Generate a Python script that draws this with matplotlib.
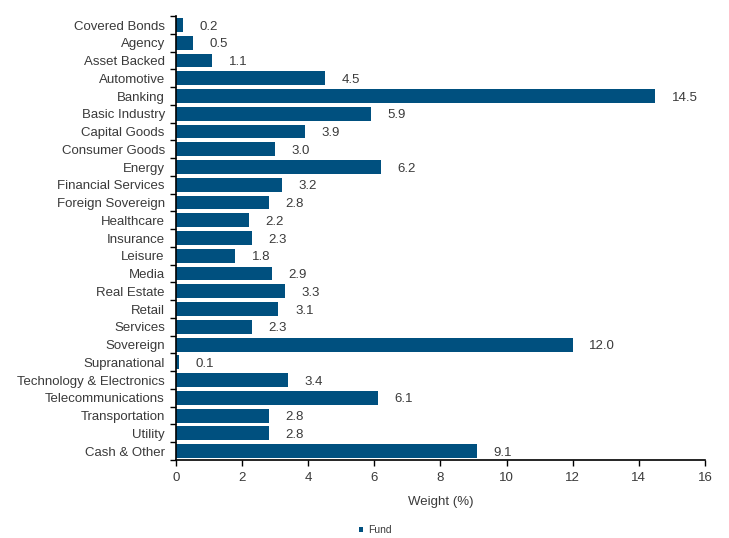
import matplotlib.pyplot as plt
import numpy as np

plt.rcParams["font.family"] = ["Liberation Sans", "DejaVu Sans"]

sectors = [
    "Covered Bonds", "Agency", "Asset Backed", "Automotive", "Banking",
    "Basic Industry", "Capital Goods", "Consumer Goods", "Energy",
    "Financial Services", "Foreign Sovereign", "Healthcare", "Insurance",
    "Leisure", "Media", "Real Estate", "Retail", "Services", "Sovereign",
    "Supranational", "Technology & Electronics", "Telecommunications",
    "Transportation", "Utility", "Cash & Other",
]
weights = [0.2, 0.5, 1.1, 4.5, 14.5, 5.9, 3.9, 3.0, 6.2, 3.2, 2.8, 2.2, 2.3,
           1.8, 2.9, 3.3, 3.1, 2.3, 12.0, 0.1, 3.4, 6.1, 2.8, 2.8, 9.1]
x_ticks = [0, 2, 4, 6, 8, 10, 12, 14, 16]

bar_color = "#00507f"
text_color = "#3a3a3a"

fig = plt.figure(figsize=(7.29, 5.38), dpi=100)
ax = fig.add_axes([0.2414, 0.145, 0.7256, 0.825])

y = np.arange(len(sectors))
ax.barh(y, weights, height=0.78, color=bar_color, label="Fund")
for yi, w in zip(y, weights):
    ax.text(w + 0.5, yi, f"{w:.1f}", va="center_baseline", ha="left",
            fontsize=9.5, color=text_color)

ax.set_ylim(len(sectors) - 0.5, -0.5)
ax.set_xlim(0, 16)
ax.set_xticks(x_ticks)
ax.set_yticks(y)
ax.set_yticklabels(sectors, fontsize=9.5, color=text_color)
ax.set_yticks(np.arange(len(sectors) + 1) - 0.5, minor=True)
ax.tick_params(axis="y", which="major", length=0, pad=8)
ax.tick_params(axis="y", which="minor", length=4, width=1, direction="out")
ax.tick_params(axis="x", length=4, width=1, labelsize=9.5,
               labelcolor=text_color, pad=5)
ax.set_xlabel("Weight (%)", fontsize=9.5, color=text_color, labelpad=8)

for side in ["top", "right"]:
    ax.spines[side].set_visible(False)
for side in ["left", "bottom"]:
    ax.spines[side].set_color("black")
    ax.spines[side].set_linewidth(1.2)

fig.legend(loc="lower center", bbox_to_anchor=(0.515, -0.012), frameon=False,
           fontsize=7.5, handlelength=0.3, handleheight=0.3,
           handletextpad=0.5, labelcolor=text_color)

fig.savefig("out.png", dpi=100)
